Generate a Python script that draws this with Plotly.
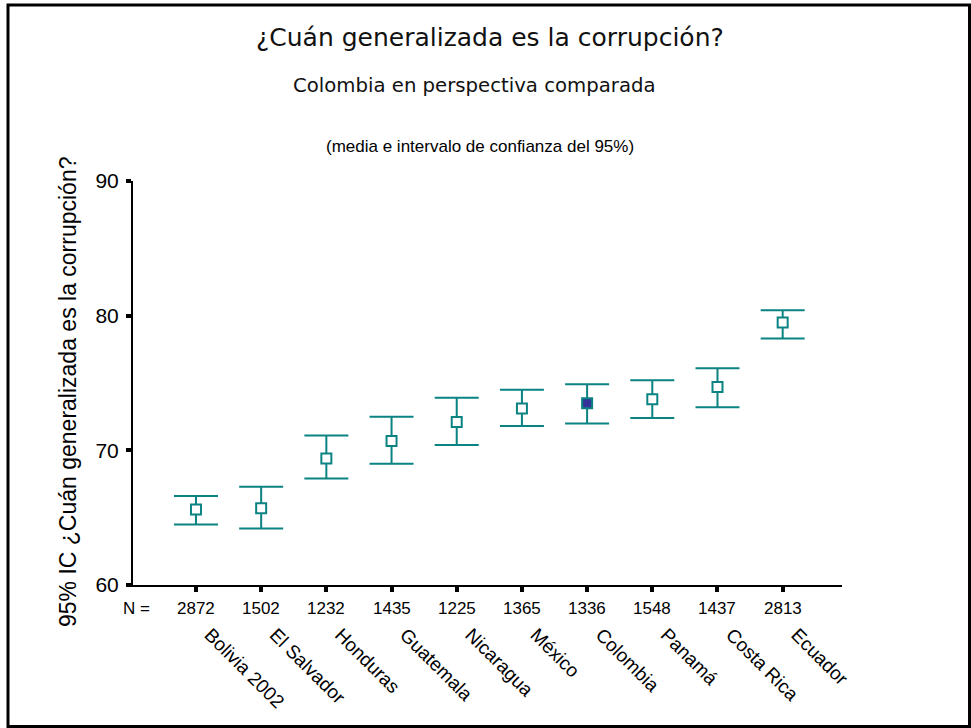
import plotly.graph_objects as go

# ---- data ----
countries = ["Bolivia 2002", "El Salvador", "Honduras", "Guatemala", "Nicaragua",
             "México", "Colombia", "Panamá", "Costa Rica", "Ecuador"]
n_values = [2872, 1502, 1232, 1435, 1225, 1365, 1336, 1548, 1437, 2813]
means = [65.6, 65.7, 69.4, 70.7, 72.1, 73.1, 73.5, 73.8, 74.7, 79.5]
ci_lower = [64.5, 64.2, 67.9, 69.0, 70.4, 71.8, 72.0, 72.4, 73.2, 78.3]
ci_upper = [66.6, 67.3, 71.1, 72.5, 73.9, 74.5, 74.9, 75.2, 76.1, 80.4]
y_ticks = [60, 70, 80, 90]
highlight = "Colombia"

title_text = "¿Cuán generalizada es la corrupción?"
subtitle_text = "Colombia en perspectiva comparada"
note_text = "(media e intervalo de confianza del 95%)"
ytitle_text = "95% IC ¿Cuán generalizada es la corrupción?"

# ---- style ----
W, H = 971, 728
L, R, T, B = 133, 129, 181, 143
PW, PH = W - L - R, H - T - B
TEAL = "#0B8383"
NAVY = "#333399"
ARIAL = "Liberation Sans, Arial, sans-serif"
NARROW = "Liberation Sans Narrow, Arial Narrow, Liberation Sans, sans-serif"
WIDE = "DejaVu Sans, Verdana, sans-serif"
X_RANGE = [-0.966, 9.91]
LABEL_SHIFT = 0.215  # horizontal nudge of rotated category labels (axis units)

def px_x(px):
    return (px - L) / PW

def px_y(py):
    return (H - B - py) / PH

xs = list(range(len(countries)))
err_plus = [u - m for u, m in zip(ci_upper, means)]
err_minus = [m - l for m, l in zip(means, ci_lower)]
fills = [NAVY if c == highlight else "white" for c in countries]

fig = go.Figure()
fig.add_trace(go.Scatter(
    x=xs, y=means, mode="markers",
    marker=dict(symbol="square", size=10, color=fills,
                line=dict(color=TEAL, width=2)),
    error_y=dict(type="data", symmetric=False, array=err_plus,
                 arrayminus=err_minus, color=TEAL, thickness=2, width=22),
    hoverinfo="skip", showlegend=False,
))
fig.add_trace(go.Scatter(x=[xs[0]], y=[means[0]], xaxis="x2", mode="markers",
                         marker=dict(opacity=0), hoverinfo="skip", showlegend=False))

annotations = []
annotations.append(dict(text="N =", x=px_x(136), y=px_y(608), xref="paper", yref="paper",
                        showarrow=False, xanchor="center", yanchor="middle",
                        font=dict(family=NARROW, size=17, color="black")))
for xi, n in zip(xs, n_values):
    annotations.append(dict(text=str(n), x=xi, y=px_y(608), xref="x", yref="paper",
                            showarrow=False, xanchor="center", yanchor="middle",
                            font=dict(family=NARROW, size=17, color="black")))
annotations.append(dict(text=title_text, x=px_x(490), y=px_y(38), xref="paper", yref="paper",
                        showarrow=False, xanchor="center", yanchor="middle",
                        font=dict(family=WIDE, size=25, color="#111")))
annotations.append(dict(text=subtitle_text, x=px_x(474), y=px_y(85), xref="paper", yref="paper",
                        showarrow=False, xanchor="center", yanchor="middle",
                        font=dict(family=WIDE, size=19.7, color="#111")))
annotations.append(dict(text=note_text, x=px_x(480), y=px_y(147), xref="paper", yref="paper",
                        showarrow=False, xanchor="center", yanchor="middle",
                        font=dict(family=ARIAL, size=17, color="black")))
annotations.append(dict(text=ytitle_text, x=px_x(68), y=px_y(392), xref="paper", yref="paper",
                        showarrow=False, xanchor="center", yanchor="middle", textangle=-90,
                        font=dict(family=ARIAL, size=23, color="black")))

shapes = [dict(type="rect", xref="paper", yref="paper",
               x0=px_x(8), x1=px_x(969.5), y0=px_y(726.5), y1=px_y(5),
               line=dict(color="black", width=3), fillcolor="rgba(0,0,0,0)", layer="below")]

fig.update_layout(
    width=W, height=H,
    margin=dict(l=L, r=R, t=T, b=B, pad=0),
    paper_bgcolor="white", plot_bgcolor="white",
    annotations=annotations, shapes=shapes,
    xaxis=dict(range=X_RANGE, tickmode="array", tickvals=xs, showticklabels=False,
               ticks="outside", ticklen=5, tickwidth=4, tickcolor="black",
               showline=True, linecolor="black", linewidth=2, showgrid=False, zeroline=False),
    xaxis2=dict(range=X_RANGE, overlaying="x", side="bottom", anchor="y",
                tickmode="array", tickvals=[x + LABEL_SHIFT for x in xs], ticktext=countries,
                tickangle=45, ticks="", showline=False, showgrid=False, zeroline=False,
                ticklabelstandoff=34,
                tickfont=dict(family=ARIAL, size=19, color="black")),
    yaxis=dict(range=[60, 90], tickmode="array", tickvals=y_ticks,
               ticks="outside", ticklen=5, tickwidth=4, tickcolor="black",
               showline=True, linecolor="black", linewidth=2, showgrid=False, zeroline=False,
               ticklabelstandoff=3,
               tickfont=dict(family=ARIAL, size=21, color="black")),
)

fig.write_html("out.html", config={"displayModeBar": False},
               post_script="document.body.style.margin='0';document.body.style.overflow='hidden';")
